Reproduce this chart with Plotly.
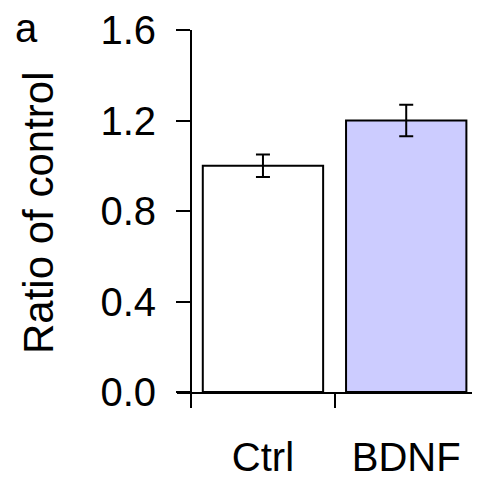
import plotly.graph_objects as go

categories = ["Ctrl", "BDNF"]
values = [1.0, 1.2]
errors = [0.05, 0.07]
colors = ["#FFFFFF", "#CCCCFF"]
y_ticks = [0.0, 0.4, 0.8, 1.2, 1.6]

FONT = "Arial, Liberation Sans, sans-serif"
FS = 40

# the page body adds an 8px offset; compensate so the picture lands at 480x477
OFF = 8
W, H = 480 - OFF, 477 - OFF
L, R, T = 177 - OFF, 0, 30 - OFF
B = H - (392 - OFF)
pw = W - L - R
ph = H - T - B


def px(x):
    return (x - OFF - L) / pw


def py(y):
    return (H - B - (y - OFF)) / ph


fig = go.Figure()
fig.add_trace(go.Bar(
    x=categories, y=values, width=0.84,
    marker=dict(color=colors, line=dict(color="black", width=2)),
    error_y=dict(type="data", array=errors, visible=True, color="black",
                 thickness=2, width=7),
))

fig.update_layout(
    width=W, height=H,
    margin=dict(l=L, r=R, t=T, b=B, pad=0, autoexpand=False),
    plot_bgcolor="white", paper_bgcolor="white",
    showlegend=False,
    font=dict(family=FONT, size=FS, color="black"),
    xaxis=dict(
        type="category", range=[-0.6, 1.515], automargin=False,
        showline=True, linecolor="black", linewidth=2,
        ticks="outside", ticklen=14, tickwidth=2, tickcolor="black",
        tickson="boundaries", showgrid=False, zeroline=False,
        ticklabelstandoff=29,
        tickfont=dict(family=FONT, size=FS, color="black"),
    ),
    yaxis=dict(
        range=[0, 1.6], tickvals=y_ticks, tickformat=".1f", automargin=False,
        anchor="free", position=px(191),
        showline=True, linecolor="black", linewidth=2,
        ticks="outside", ticklen=14, tickwidth=2, tickcolor="black",
        showgrid=False, zeroline=False,
        ticklabelstandoff=12,
        tickfont=dict(family=FONT, size=FS, color="black"),
    ),
    annotations=[
        dict(text="Ratio of control", textangle=-90, showarrow=False,
             xref="paper", yref="paper",
             x=px(38), y=py(213),
             xanchor="center", yanchor="middle",
             font=dict(family=FONT, size=42, color="black")),
        dict(text="a", showarrow=False, xref="paper", yref="paper",
             x=px(26), y=py(28),
             xanchor="center", yanchor="middle",
             font=dict(family=FONT, size=FS, color="black")),
    ],
)

fig.write_html("out.html")
